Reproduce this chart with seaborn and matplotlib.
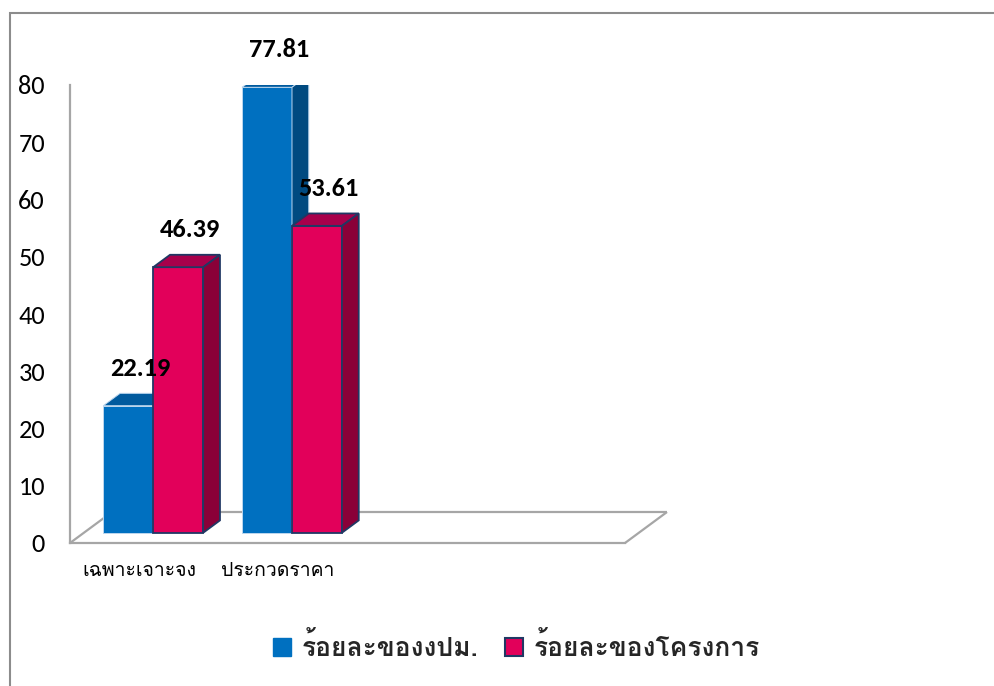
import pandas as pd
import matplotlib.pyplot as plt
import seaborn as sns
from matplotlib.patches import Polygon, Patch, Rectangle

categories = ['เฉพาะเจาะจง', 'ประกวดราคา']
empty_slots = ['_c3', '_c4']  # two unlabeled, empty categories on the floor
series = ['ร้อยละของงปม.', 'ร้อยละของโครงการ']
pm_values = [22.19, 77.81]
project_values = [46.39, 53.61]
yticks = [0, 10, 20, 30, 40, 50, 60, 70, 80]

df = pd.DataFrame({
    'category': categories * 2,
    'series': [series[0]] * 2 + [series[1]] * 2,
    'value': pm_values + project_values,
})

front = {series[0]: '#0070C0', series[1]: '#E2005A'}
top_c = ['#005A9E', '#A8004B']
side_c = ['#004A80', '#8A0038']
edge_c = ['#BCD6EE', '#203864']
edge_w = [0.7, 1.3]

sns.set_theme(style='white')
thai = ['Loma', 'Noto Sans Thai Looped', 'DejaVu Sans']
num = ['Carlito', 'Lato', 'DejaVu Sans']
plt.rcParams['font.family'] = num

W, H = 995, 686
fig = plt.figure(figsize=(W / 100, H / 100), dpi=100)
ax = fig.add_axes([70 / W, (H - 543) / H, 555 / W, 458 / H])

sns.barplot(data=df, x='category', y='value', hue='series',
            order=categories + empty_slots, hue_order=series,
            palette=front, saturation=1, width=0.72, legend=False, ax=ax)

ax.set_xlim(-0.5, 3.5)
ax.set_ylim(0, 80)

# pixel -> data conversion for the fake 3D depth
ux = 555 / 4
uy = 458 / 80
floor_dx, floor_dy = 42 / ux, 31 / uy
fdx, fdy = 0.33 * floor_dx, 0.33 * floor_dy
bdx, bdy = 0.40 * floor_dx, 0.40 * floor_dy

grey = '#A6A6A6'
kw = dict(color=grey, lw=1.6, clip_on=False, zorder=1, solid_capstyle='butt')
ax.plot([-0.5, -0.5 + floor_dx], [0, floor_dy], **kw)
ax.plot([-0.5 + floor_dx, 3.5 + floor_dx], [floor_dy, floor_dy], **kw)
ax.plot([3.5, 3.5 + floor_dx], [0, floor_dy], **kw)

for i, cont in enumerate(ax.containers):
    z = 2 + 2 * i
    for bar in cont:
        h = bar.get_height()
        if not h == h or h == 0:
            continue
        x0 = bar.get_x() + fdx
        w = bar.get_width()
        bar.set_x(x0)
        bar.set_y(fdy)
        bar.set_edgecolor(edge_c[i])
        bar.set_linewidth(edge_w[i])
        bar.set_zorder(z)
        top = fdy + h
        x1 = x0 + w
        ax.add_patch(Polygon([(x0, top), (x1, top), (x1 + bdx, top + bdy), (x0 + bdx, top + bdy)],
                             closed=True, fc=top_c[i], ec=edge_c[i], lw=edge_w[i], zorder=z + 1))
        ax.add_patch(Polygon([(x1, fdy), (x1 + bdx, fdy + bdy), (x1 + bdx, top + bdy), (x1, top)],
                             closed=True, fc=side_c[i], ec=edge_c[i], lw=edge_w[i], zorder=z + 1))
        ax.text(x0 + w / 2 + 12 / ux, top + bdy + 25 / uy, f'{h:.2f}', ha='center', va='center',
                fontsize=19, fontweight='bold', color='black', clip_on=False, zorder=10)

for s in ['top', 'right']:
    ax.spines[s].set_visible(False)
for s in ['left', 'bottom']:
    ax.spines[s].set_color(grey)
    ax.spines[s].set_linewidth(1.6)

ax.set_yticks(yticks)
ax.set_yticklabels([str(t) for t in yticks])
ax.set_xticks(range(4))
ax.set_xticklabels(categories + ['', ''])
ax.tick_params(axis='y', length=0, pad=18, labelsize=19, labelcolor='black')
ax.tick_params(axis='x', length=0, pad=14, labelsize=14, labelcolor='black')
for lbl in ax.get_xticklabels():
    lbl.set_family(thai)
ax.set_xlabel('')
ax.set_ylabel('')

handles = [Patch(fc=front[series[0]], ec=front[series[0]]),
           Patch(fc=front[series[1]], ec='#203864', lw=1.5)]
fig.legend(handles=handles, labels=series, loc='center', bbox_to_anchor=(0.519, 0.057),
           ncol=2, frameon=False, prop={'family': thai, 'size': 19, 'weight': 'bold'},
           handlelength=0.7, handleheight=0.7, handletextpad=0.4, columnspacing=1.0)

fig.patches.append(Rectangle((10 / W, -0.1), 1.2, (H - 13) / H + 0.1, transform=fig.transFigure,
                             fill=False, ec='#8C8C8C', lw=1.5))

fig.savefig('out.png', dpi=100)
